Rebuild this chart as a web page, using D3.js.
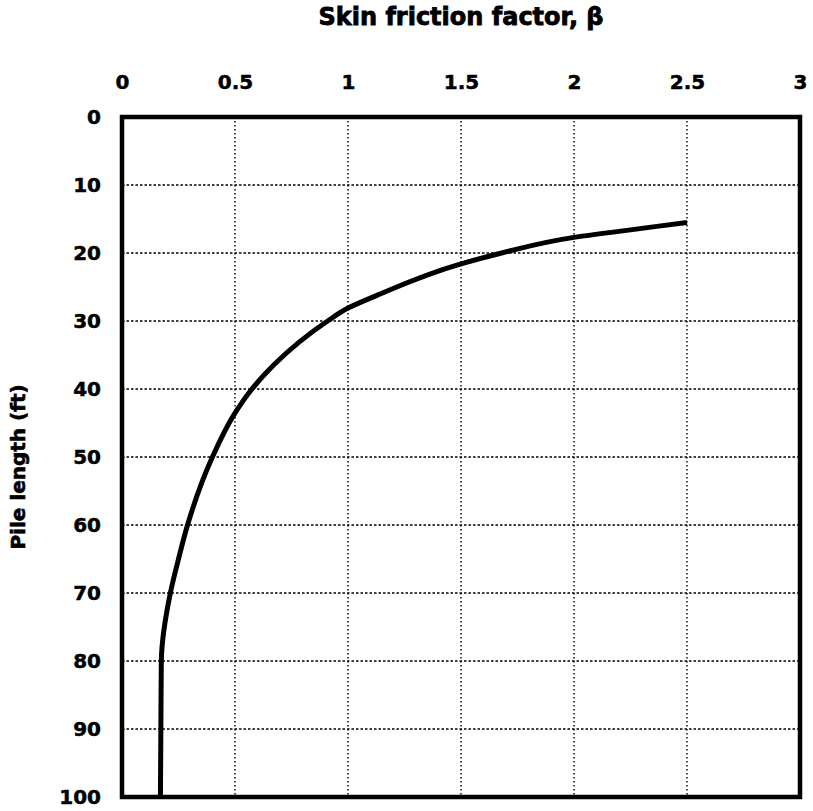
<!DOCTYPE html>
<html>
<head>
<meta charset="utf-8">
<script src="https://cdn.jsdelivr.net/npm/d3@7"></script>
<style>
  html, body { margin: 0; padding: 0; background: #fff; }
  svg { display: block; }
  text { font-family: "DejaVu Sans", "Liberation Sans", Arial, sans-serif; font-weight: bold; fill: #000; }
</style>
</head>
<body>
<svg id="chart" width="813" height="811"></svg>
<script>
// Data
const betaValues = [2.5, 2.25, 2.0, 1.68, 1.5, 1.13, 1.0, 0.91, 0.67, 0.575, 0.495, 0.40, 0.29, 0.25, 0.214, 0.174, 0.172, 0.17];
const lengthValues = [15.5, 16.6, 17.7, 20, 21.6, 26.2, 28.1, 30, 36.5, 40, 43.8, 50, 60, 65, 70, 80, 90, 100];
const xTicks = [0, 0.5, 1, 1.5, 2, 2.5, 3];
const yTicks = [0, 10, 20, 30, 40, 50, 60, 70, 80, 90, 100];
const xTickLabels = ["0", "0.5", "1", "1.5", "2", "2.5", "3"];
const yTickLabels = ["0", "10", "20", "30", "40", "50", "60", "70", "80", "90", "100"];
const titleText = "Skin friction factor, β";
const yLabelText = "Pile length (ft)";

const svg = d3.select("#chart");
const mLeft = 122, mRight = 800, mTop = 117, mBottom = 797;

const x = d3.scaleLinear().domain([0, 3]).range([mLeft, mRight]);
const y = d3.scaleLinear().domain([0, 100]).range([mTop, mBottom]);

// grid
const grid = svg.append("g");
grid.selectAll("line.vx").data(xTicks.slice(1, -1)).join("line")
  .attr("x1", d => x(d)).attr("x2", d => x(d))
  .attr("y1", mTop).attr("y2", mBottom)
  .attr("stroke", "#000").attr("stroke-width", 1.4).attr("stroke-dasharray", "1.5,2.5");
grid.selectAll("line.hy").data(yTicks.slice(1, -1)).join("line")
  .attr("y1", d => y(d)).attr("y2", d => y(d))
  .attr("x1", mLeft).attr("x2", mRight)
  .attr("stroke", "#000").attr("stroke-width", 1.4).attr("stroke-dasharray", "2.5,2");

// top axis
const xAxis = d3.axisTop(x).tickValues(xTicks).tickFormat((d, i) => xTickLabels[i]).tickSize(0).tickPadding(28);
const gx = svg.append("g").attr("transform", `translate(0,${mTop})`).call(xAxis);
gx.select(".domain").remove();
gx.selectAll("text").style("font-size", "20px").style("font-family", "DejaVu Sans").style("font-weight", "bold")
  .style("stroke", "#000").style("stroke-width", 0.5);

// left axis
const yAxis = d3.axisLeft(y).tickValues(yTicks).tickFormat((d, i) => yTickLabels[i]).tickSize(0).tickPadding(21);
const gy = svg.append("g").attr("transform", `translate(${mLeft},0)`).call(yAxis);
gy.select(".domain").remove();
gy.selectAll("text").style("font-size", "20px").style("font-family", "DejaVu Sans").style("font-weight", "bold")
  .style("stroke", "#000").style("stroke-width", 0.5);

// frame
svg.append("rect").attr("x", mLeft).attr("y", mTop)
  .attr("width", mRight - mLeft).attr("height", mBottom - mTop)
  .attr("fill", "none").attr("stroke", "#000").attr("stroke-width", 4.5);

// curve
const pts = betaValues.map((b, i) => [b, lengthValues[i]]);
const line = d3.line().x(d => x(d[0])).y(d => y(d[1])).curve(d3.curveMonotoneY);
svg.append("path").datum(pts).attr("d", line)
  .attr("fill", "none").attr("stroke", "#000").attr("stroke-width", 5)
  .attr("stroke-linejoin", "round");

// title
svg.append("text").attr("x", (mLeft + mRight) / 2).attr("y", 25)
  .attr("text-anchor", "middle").style("font-size", "24px")
  .style("stroke", "#000").style("stroke-width", 0.8)
  .text(titleText);

// y label
svg.append("text").attr("transform", `translate(25,467) rotate(-90)`)
  .attr("text-anchor", "middle").style("font-size", "20px")
  .style("stroke", "#000").style("stroke-width", 0.6)
  .text(yLabelText);
</script>
</body>
</html>
